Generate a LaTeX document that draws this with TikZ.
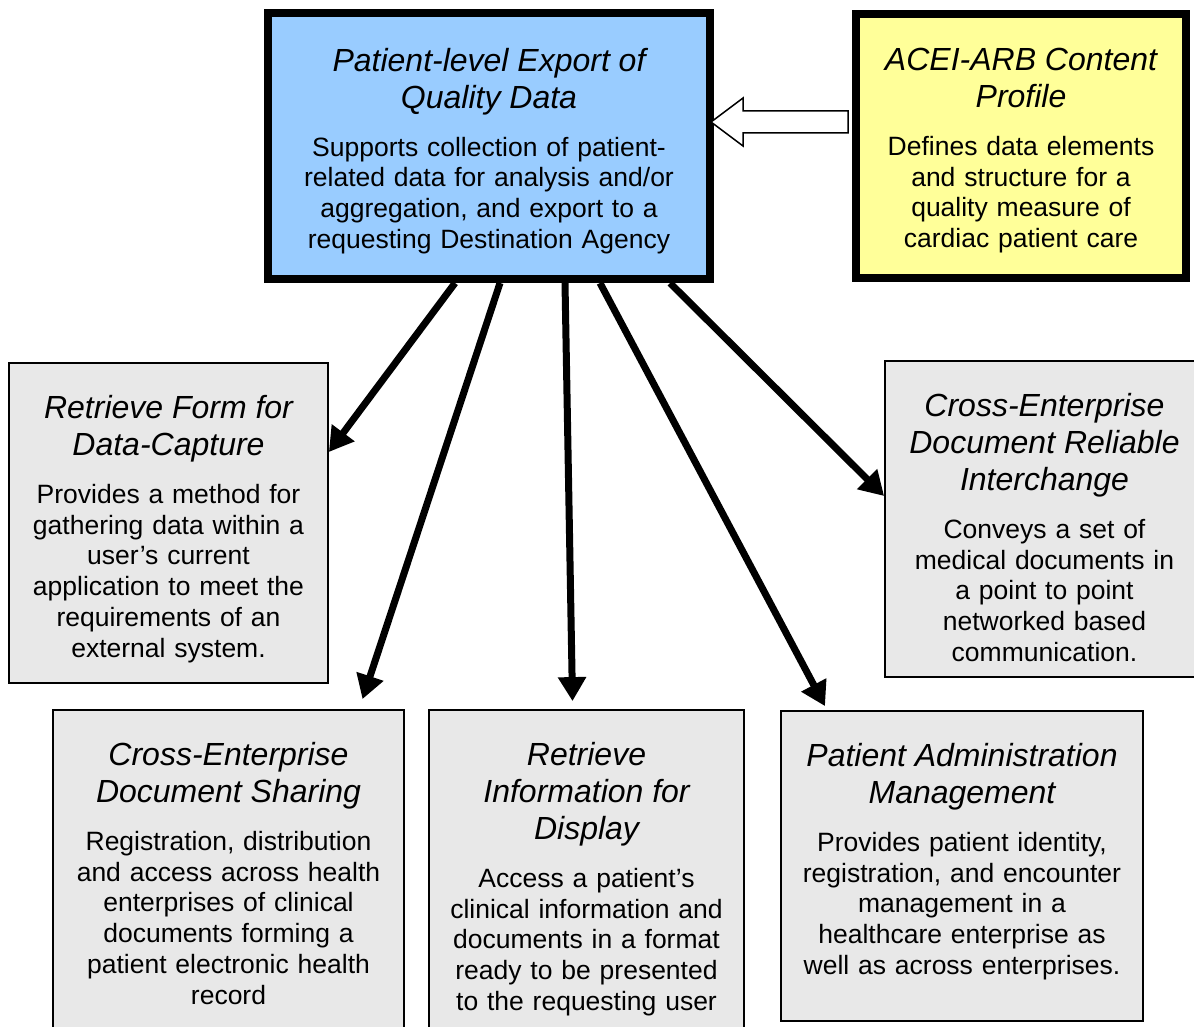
\documentclass[tikz,border=0pt]{standalone}
\usepackage{fontspec}
\setmainfont{Liberation Sans}
\usetikzlibrary{arrows.meta}
\definecolor{qdblue}{HTML}{99CCFF}
\definecolor{acyellow}{HTML}{FFFF99}
\definecolor{profgray}{HTML}{E8E8E8}
\newcommand{\boxhead}[1]{{\fontsize{32}{37}\selectfont\itshape #1\par}\vspace{17pt}}

\begin{document}
\begin{tikzpicture}[x=1pt, y=-1pt,
    topbox/.style={draw, line width=8pt, inner sep=0pt},
    profbox/.style={draw, line width=1.8pt, fill=profgray, inner sep=0pt},
    boxtext/.style={text width=#1, align=center, inner sep=0pt, anchor=north,
      yshift=-33pt, font=\fontsize{26.5}{30.8}\selectfont},
    uses/.style={line width=7pt, -{Triangle[length=24pt, width=27pt]}}]
    \useasboundingbox (0,0) rectangle (1194,1027);
    \node[topbox, fill=qdblue, minimum width=442pt, minimum height=266pt,
      label={[boxtext=430pt, yshift=-6pt]north:{\boxhead{Patient-level Export of\\Quality Data}Supports collection of patient-\\related data for analysis and/or\\aggregation, and export to a\\requesting Destination Agency}}]
      (pexport) at (489,146) {};
    \node[topbox, fill=acyellow, minimum width=330pt, minimum height=264pt,
      label={[boxtext=320pt, yshift=-5pt]north:{\boxhead{ACEI-ARB Content\\Profile}Defines data elements\\and structure for a\\quality measure of\\cardiac patient care}}]
      (acei) at (1021,146) {};
    \node[profbox, minimum width=319pt, minimum height=320pt,
      label={[boxtext=310pt]north:{\boxhead{Retrieve Form for\\Data-Capture}Provides a method for\\gathering data within a\\user’s current\\application to meet the\\requirements of an\\external system.}}]
      (rff) at (168.5,523) {};
    \node[profbox, minimum width=319pt, minimum height=316pt,
      label={[boxtext=310pt]north:{\boxhead{Cross-Enterprise\\Document Reliable\\Interchange}Conveys a set of\\medical documents in\\a point to point\\networked based\\communication.}}]
      (xdr) at (1044.5,519) {};
    \node[profbox, minimum width=351pt, minimum height=340pt,
      label={[boxtext=340pt]north:{\boxhead{Cross-Enterprise\\Document Sharing}Registration, distribution\\and access across health\\enterprises of clinical\\documents forming a\\patient electronic health\\record}}]
      (xds) at (228.5,880) {};
    \node[profbox, minimum width=315pt, minimum height=340pt,
      label={[boxtext=305pt]north:{\boxhead{Retrieve\\Information for\\Display}Access a patient’s\\clinical information and\\documents in a format\\ready to be presented\\to the requesting user}}]
      (rid) at (586.5,880) {};
    \node[profbox, minimum width=362pt, minimum height=310pt,
      label={[boxtext=350pt]north:{\boxhead{Patient Administration\\Management}Provides patient identity,\\registration, and encounter\\management in a\\healthcare enterprise as\\well as across enterprises.}}]
      (pam) at (962,866) {};
    \draw[line width=1.5pt, fill=white] ([shift={(-4,-35)}]acei.west)
      -- ++(-105,0) -- ++(0,-13) -- ++(-32,24) -- ++(32,24) -- ++(0,-13) -- ++(105,0) -- cycle;
    \draw[uses] ([xshift=-34pt]pexport.south) -- ([yshift=71pt]rff.east);
    \draw[uses] ([xshift=11pt]pexport.south) -- ([xshift=134pt, yshift=10pt]xds.north);
    \draw[uses] ([xshift=76pt]pexport.south) -- ([xshift=-14pt, yshift=8pt]rid.north);
    \draw[uses] ([xshift=111pt]pexport.south) -- ([xshift=-137pt, yshift=4pt]pam.north);
    \draw[uses] ([xshift=181pt]pexport.south) -- ([yshift=23pt]xdr.west);
\end{tikzpicture}
\end{document}
